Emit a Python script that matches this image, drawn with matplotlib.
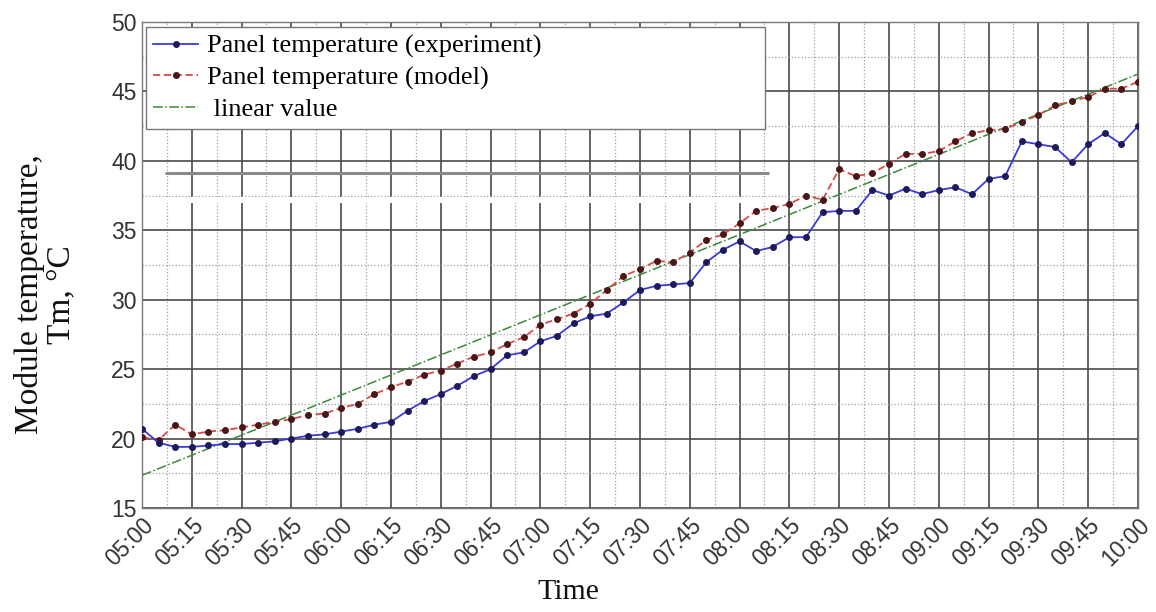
import numpy as np
import pandas as pd
import matplotlib
matplotlib.use("Agg")
import matplotlib.pyplot as plt
import matplotlib.dates as mdates

# readings every 5 minutes, 05:00 .. 10:00
times = pd.date_range("2020-01-01 05:00", "2020-01-01 10:00", freq="5min")

temp_experiment = [
    20.7, 19.7, 19.4, 19.4, 19.5, 19.6, 19.6, 19.7, 19.8, 20.0,
    20.2, 20.3, 20.5, 20.7, 21.0, 21.2, 22.0, 22.7, 23.2, 23.8,
    24.5, 25.0, 26.0, 26.2, 27.0, 27.4, 28.3, 28.8, 29.0, 29.8,
    30.7, 31.0, 31.1, 31.2, 32.7, 33.6, 34.2, 33.5, 33.8, 34.5,
    34.5, 36.3, 36.4, 36.4, 37.9, 37.5, 38.0, 37.6, 37.9, 38.1,
    37.6, 38.7, 38.9, 41.4, 41.2, 41.0, 39.9, 41.2, 42.0, 41.2,
    42.5,
]
temp_model = [
    20.1, 19.9, 21.0, 20.3, 20.5, 20.6, 20.8, 21.0, 21.2, 21.4,
    21.7, 21.8, 22.2, 22.5, 23.2, 23.7, 24.1, 24.6, 24.9, 25.4,
    25.9, 26.2, 26.8, 27.3, 28.2, 28.6, 29.0, 29.7, 30.7, 31.7,
    32.2, 32.8, 32.7, 33.4, 34.3, 34.7, 35.5, 36.4, 36.6, 36.9,
    37.5, 37.2, 39.4, 38.9, 39.1, 39.8, 40.5, 40.5, 40.7, 41.4,
    42.0, 42.2, 42.3, 42.8, 43.3, 44.0, 44.3, 44.6, 45.2, 45.2,
    45.7,
]
# straight line from 05:00 to 10:00
linear_times = [times[0], times[-1]]
linear_values = [17.35, 46.25]

labels = ["Panel temperature (experiment)", "Panel temperature (model)", " linear value"]

serif = ["Liberation Serif", "DejaVu Serif"]
sans = ["Liberation Sans", "DejaVu Sans"]

fig = plt.figure(figsize=(11.56, 6.12), dpi=100)
ax = fig.add_axes([0.1228, 0.170, 0.8616, 0.794])

ax.plot(times, temp_experiment, color="#3a3ad8", lw=1.3, marker="o", ms=4,
        mfc="#1c1c5c", mec="#1c1c5c", zorder=4, label=labels[0])
ax.plot(times, temp_model, color="#d84a4a", lw=1.3, ls=(0, (4, 2)), marker="o", ms=4,
        mfc="#4a1616", mec="#4a1616", zorder=3, label=labels[1])
ax.plot(linear_times, linear_values, color="#3a8a3a", lw=1.1, ls="-.", zorder=2,
        label=labels[2])

ax.set_xlim(times[0], times[-1])
ax.set_ylim(15, 50)

ax.xaxis.set_major_locator(mdates.MinuteLocator(byminute=[0, 15, 30, 45]))
ax.xaxis.set_major_formatter(mdates.DateFormatter("%H:%M"))
minor_x = pd.date_range(times[0] + pd.Timedelta("450s"), times[-1], freq="15min")
ax.set_xticks(mdates.date2num(minor_x), minor=True)
ax.set_yticks(np.arange(15, 51, 5))
ax.set_yticks(np.arange(17.5, 50, 5), minor=True)

ax.set_axisbelow(True)
ax.grid(which="major", color="#4a4a4a", lw=1.2, ls="-")
ax.grid(which="minor", color="#a0a0a0", lw=0.9, ls=":")

ax.tick_params(which="both", length=0, pad=4)
for lab in ax.get_yticklabels():
    lab.set_fontfamily(sans)
    lab.set_fontsize(16.5)
    lab.set_color("#333333")
for lab in ax.get_xticklabels():
    lab.set_fontfamily(sans)
    lab.set_fontsize(16.5)
    lab.set_color("#333333")
    lab.set_rotation(45)
    lab.set_ha("right")
    lab.set_rotation_mode("anchor")

for sp in ax.spines.values():
    sp.set_color("#777777")
    sp.set_linewidth(1.0)

# scanning artefacts of the original picture
ax.hlines(39.15, times[0] + pd.Timedelta("7min"), times[0] + pd.Timedelta("189min"),
          color="#8a8a8a", lw=2.2, zorder=1.2)
ax.axhspan(37.0, 37.4, xmin=0.0, xmax=189 / 300, color="white", lw=0, zorder=1)

ax.set_xlabel("Time", fontfamily=serif, fontsize=21.5, color="#111111")
ax.xaxis.set_label_coords(0.428, -0.147)
ax.set_ylabel("Module temperature,\nTm, \u00b0C", fontfamily=serif, fontsize=24,
              color="#111111", linespacing=1.05)
ax.yaxis.set_label_coords(-0.066, 0.44)

leg = ax.legend(loc="upper left", bbox_to_anchor=(0.004, 0, 0.6215, 0.99), mode="expand",
                borderaxespad=0, prop={"family": serif, "size": 19}, frameon=True,
                fancybox=False, edgecolor="#777777", framealpha=1, handlelength=1.7,
                handletextpad=0.35, labelspacing=0.3, borderpad=0.28)
leg.get_frame().set_linewidth(1.0)
leg.set_zorder(5)

fig.savefig("out.png", dpi=100)
